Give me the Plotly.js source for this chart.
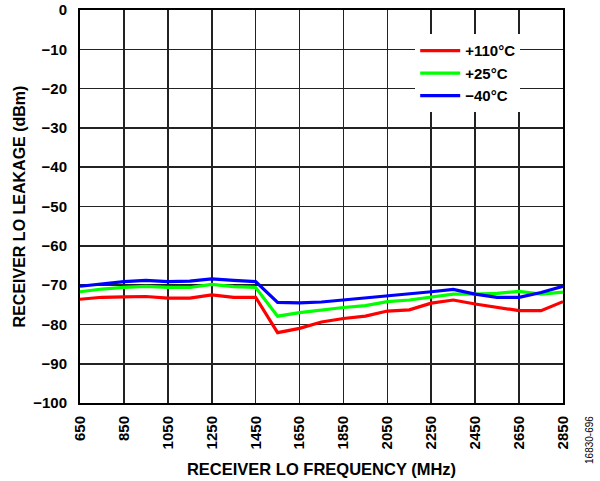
<!DOCTYPE html>
<html>
<head>
<meta charset="utf-8">
<script src="https://cdn.plot.ly/plotly-3.0.1.min.js"></script>
<style>html,body{margin:0;padding:0;background:#fff;}#chart{width:600px;height:481px;}</style>
</head>
<body>
<div id="chart"></div>
<script>
const freq = [650, 750, 850, 950, 1050, 1150, 1250, 1350, 1450, 1550, 1650, 1750, 1850, 1950, 2050, 2150, 2250, 2350, 2450, 2550, 2650, 2750, 2850];
const hot110 = [-73.6, -73.1, -73.0, -72.9, -73.3, -73.3, -72.5, -73.1, -73.1, -82.1, -81.0, -79.4, -78.5, -77.9, -76.6, -76.3, -74.6, -73.8, -74.8, -75.7, -76.5, -76.5, -74.2];
const room25 = [-71.7, -71.0, -70.6, -70.3, -70.6, -70.6, -69.8, -70.4, -70.6, -77.9, -77.0, -76.3, -75.7, -75.2, -74.2, -73.8, -73.0, -72.3, -72.3, -72.1, -71.6, -72.3, -71.8];
const cold40 = [-70.3, -69.6, -69.1, -68.8, -69.1, -69.0, -68.4, -68.8, -69.1, -74.4, -74.5, -74.3, -73.8, -73.4, -72.8, -72.3, -71.7, -71.1, -72.3, -73.1, -73.1, -71.9, -70.3];
const seriesNames = ['+110°C', '+25°C', '\u221240°C'];
const xTicks = [650, 850, 1050, 1250, 1450, 1650, 1850, 2050, 2250, 2450, 2650, 2850];
const yTicks = [0, -10, -20, -30, -40, -50, -60, -70, -80, -90, -100];
const yTickText = ['0', '\u221210', '\u221220', '\u221230', '\u221240', '\u221250', '\u221260', '\u221270', '\u221280', '\u221290', '\u2212100'];

const font = 'Liberation Sans, Arial, sans-serif';
const colors = ['#ff0000', '#00ff00', '#0000ff'];
const data = [hot110, room25, cold40].map((ys, i) => ({
  x: freq, y: ys, type: 'scatter', mode: 'lines', name: seriesNames[i],
  line: {color: colors[i], width: 3.2}
}));

const layout = {
  width: 600, height: 481,
  margin: {l: 80, r: 37, t: 10, b: 78},
  paper_bgcolor: '#fff', plot_bgcolor: '#fff',
  showlegend: true,
  legend: {
    x: 0.694, y: 0.938, xanchor: 'left', yanchor: 'top',
    bgcolor: '#fff', borderwidth: 0,
    font: {family: font, size: 15, color: '#000', weight: 'bold'},
    tracegroupgap: 0, itemwidth: 40
  },
  xaxis: {
    range: [650, 2850], tickvals: xTicks, ticktext: xTicks.map(String),
    tickangle: -90, ticks: '', ticklabelstandoff: 5, showgrid: true, gridcolor: '#222', gridwidth: 1.6,
    zeroline: false, showline: true, linecolor: '#000', linewidth: 2, mirror: true,
    tickfont: {family: font, size: 15, color: '#000', weight: 'bold'},
    title: {text: 'RECEIVER LO FREQUENCY (MHz)', font: {family: font, size: 16.5, color: '#000', weight: 'bold'}, standoff: 15}
  },
  yaxis: {
    range: [-100, 0], tickvals: yTicks, ticktext: yTickText,
    ticks: '', ticklabelstandoff: 8, showgrid: true, gridcolor: '#222', gridwidth: 1.6,
    zeroline: false, showline: true, linecolor: '#000', linewidth: 2, mirror: true,
    tickfont: {family: font, size: 15, color: '#000', weight: 'bold'},
    title: {text: 'RECEIVER LO LEAKAGE (dBm)', font: {family: font, size: 16, color: '#000', weight: 'bold'}, standoff: 4}
  },
  annotations: [{
    text: '16830-696', xref: 'paper', yref: 'paper', x: 1.056, y: -0.094,
    xanchor: 'center', yanchor: 'middle', showarrow: false, textangle: -90,
    font: {family: font, size: 10, color: '#000'}
  }]
};
Plotly.newPlot('chart', data, layout, {displayModeBar: false, staticPlot: true});
</script>
</body>
</html>
